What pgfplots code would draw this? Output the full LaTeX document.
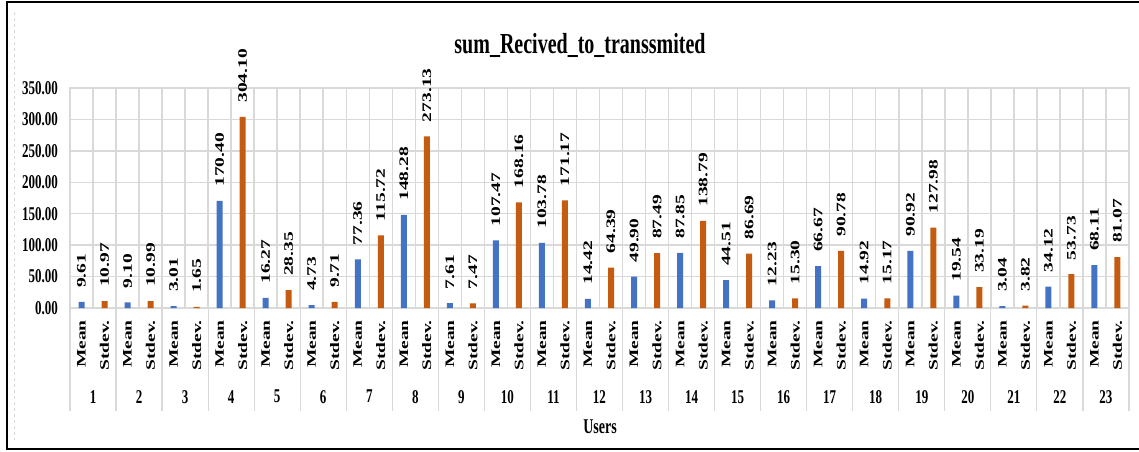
\documentclass[border=0pt]{standalone}
\usepackage{pgfplots}
\pgfplotsset{compat=1.18}
\usepackage{fontspec}
\setmainfont{Liberation Serif}
\usepackage{graphicx}
\definecolor{meanc}{HTML}{4472C4}
\definecolor{stdc}{HTML}{C55A11}
\definecolor{gridc}{HTML}{D9D9D9}
\newcommand\V[1]{\scalebox{1}[1.5]{#1}}
\newcommand\R[1]{\rotatebox{90}{\scalebox{1.5}[1]{#1}}}
\begin{document}
\fontsize{13}{15}\selectfont\bfseries
\begin{tikzpicture}[x=1pt,y=1pt]
\path[use as bounding box] (-70,-143) rectangle (1069,308);
\begin{axis}[
 at={(0,0)}, anchor=south west, scale only axis,
 width=1059pt, height=220pt,
 xmin=0, xmax=46, ymin=0, ymax=350,
 clip=false,
 /pgf/number format/assume math mode=true,
 axis line style={draw=gridc, line width=1.5pt},
 tick style={draw=none},
 major tick length=0pt, minor tick length=0pt,
 ytick={0,50,100,150,200,250,300,350},
 yticklabel={\V{\pgfmathprintnumber[fixed,fixed zerofill,precision=2]{\tick}}},
 yticklabel style={anchor=east, inner sep=0pt, xshift=-12pt},
 ymajorgrids, major grid style={draw=gridc, line width=1.5pt},
 xtick={0.5,1.5,2.5,3.5,4.5,5.5,6.5,7.5,8.5,9.5,10.5,11.5,12.5,13.5,14.5,15.5,16.5,17.5,18.5,19.5,20.5,21.5,22.5,23.5,24.5,25.5,26.5,27.5,28.5,29.5,30.5,31.5,32.5,33.5,34.5,35.5,36.5,37.5,38.5,39.5,40.5,41.5,42.5,43.5,44.5,45.5},
 xticklabels={\R{Mean},\R{Stdev.},\R{Mean},\R{Stdev.},\R{Mean},\R{Stdev.},\R{Mean},\R{Stdev.},\R{Mean},\R{Stdev.},\R{Mean},\R{Stdev.},\R{Mean},\R{Stdev.},\R{Mean},\R{Stdev.},\R{Mean},\R{Stdev.},\R{Mean},\R{Stdev.},\R{Mean},\R{Stdev.},\R{Mean},\R{Stdev.},\R{Mean},\R{Stdev.},\R{Mean},\R{Stdev.},\R{Mean},\R{Stdev.},\R{Mean},\R{Stdev.},\R{Mean},\R{Stdev.},\R{Mean},\R{Stdev.},\R{Mean},\R{Stdev.},\R{Mean},\R{Stdev.},\R{Mean},\R{Stdev.},\R{Mean},\R{Stdev.},\R{Mean},\R{Stdev.}},
 xticklabel style={anchor=north, inner sep=0pt, yshift=-12pt},
 minor xtick={0,1,...,46},
 xminorgrids, minor grid style={draw=gridc, line width=1.5pt},
 extra x ticks={1,3,5,7,9,11,13,15,17,19,21,23,25,27,29,31,33,35,37,39,41,43,45},
 extra x tick labels={\V{1},\V{2},\V{3},\V{4},\V{5},\V{6},\V{7},\V{8},\V{9},\V{10},\V{11},\V{12},\V{13},\V{14},\V{15},\V{16},\V{17},\V{18},\V{19},\V{20},\V{21},\V{22},\V{23}},
 extra x tick style={grid=none, tick label style={yshift=-70pt}},
 every node near coord/.append style={anchor=south, inner sep=0pt, yshift=14pt, black},
]
\addplot[ybar, bar width=6pt, fill=meanc, draw=none,
  nodes near coords={\R{\pgfmathprintnumber[fixed,fixed zerofill,precision=2]{\pgfplotspointmeta}}}]
coordinates {(0.5,9.61) (2.5,9.10) (4.5,3.01) (6.5,170.40) (8.5,16.27) (10.5,4.73) (12.5,77.36) (14.5,148.28) (16.5,7.61) (18.5,107.47) (20.5,103.78) (22.5,14.42) (24.5,49.90) (26.5,87.85) (28.5,44.51) (30.5,12.23) (32.5,66.67) (34.5,14.92) (36.5,90.92) (38.5,19.54) (40.5,3.04) (42.5,34.12) (44.5,68.11)};
\addplot[ybar, bar width=6pt, fill=stdc, draw=none,
  nodes near coords={\R{\pgfmathprintnumber[fixed,fixed zerofill,precision=2]{\pgfplotspointmeta}}}]
coordinates {(1.5,10.97) (3.5,10.99) (5.5,1.65) (7.5,304.10) (9.5,28.35) (11.5,9.71) (13.5,115.72) (15.5,273.13) (17.5,7.47) (19.5,168.16) (21.5,171.17) (23.5,64.39) (25.5,87.49) (27.5,138.79) (29.5,86.69) (31.5,15.30) (33.5,90.78) (35.5,15.17) (37.5,127.98) (39.5,33.19) (41.5,3.82) (43.5,53.73) (45.5,81.07)};
\pgfplotsinvokeforeach{0,2,...,46}{\draw[gridc, line width=1.2pt] (axis cs:#1,0) -- ++(0pt,-103pt);}
\end{axis}
\node[anchor=base, font=\fontsize{20}{24}\selectfont\bfseries] at (510,255) {\scalebox{1}[1.45]{sum\_Recived\_to\_transsmited}};
\node[anchor=base, font=\fontsize{14}{16}\selectfont\bfseries] at (530,-125) {\V{Users}};
\draw[black, line width=2pt] (1069,306) -- (-63,306) -- (-63,-141) -- (1069,-141);
\draw[gridc, dashed, line width=0.8pt] (-56,296) -- (-56,-132);
\end{tikzpicture}
\end{document}
